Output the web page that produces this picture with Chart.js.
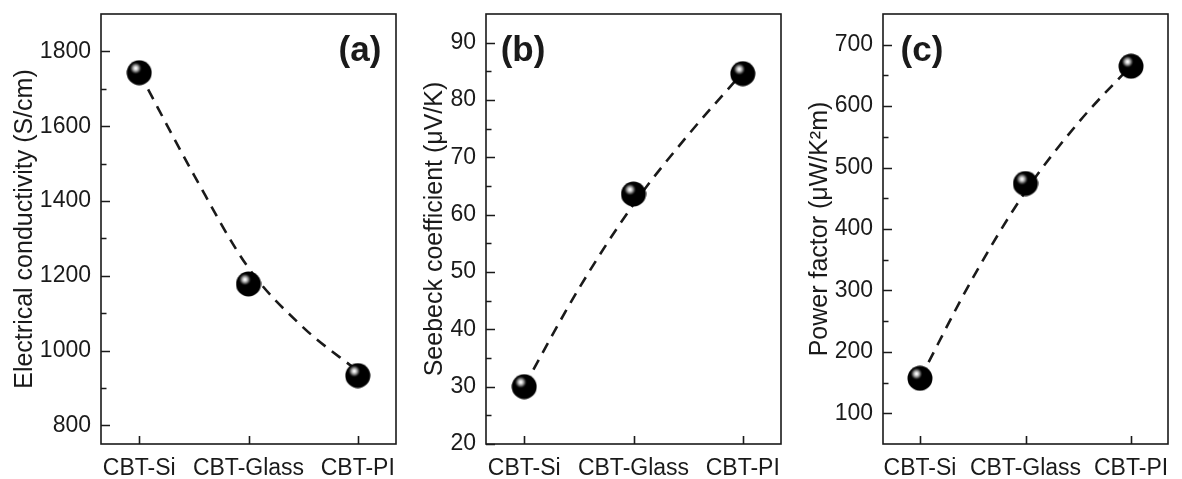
<!DOCTYPE html>
<html>
<head>
<meta charset="utf-8">
<script src="https://cdn.jsdelivr.net/npm/chart.js@4.4.7/dist/chart.umd.min.js"></script>
<style>
  body { margin: 0; background: #fff; }
  canvas { position: absolute; top: 0; }
</style>
</head>
<body>
<canvas id="cA" width="410" height="479" style="left:0px"></canvas>
<canvas id="cB" width="385" height="479" style="left:410px"></canvas>
<canvas id="cC" width="387" height="479" style="left:795px"></canvas>
<script>
// samples on the x axis
const categories = ["CBT-Si", "CBT-Glass", "CBT-PI"];

// measured points
const conductivity = [1743, 1178, 933];
const seebeck = [30.0, 63.6, 84.6];
const powerFactor = [157, 474, 665];

// dashed guide curves
const fitX = [0, 0.5, 1, 1.5, 2];
const conductivityFit = [1743, 1470, 1221, 1062, 945];
const seebeckFit = [30.1, 47.1, 61.8, 73.9, 84.8];
const powerFactorFit = [156, 320, 461, 573, 666];

// y tick values
const conductivityTicks = [800, 1000, 1200, 1400, 1600, 1800];
const conductivityMinor = [900, 1100, 1300, 1500, 1700];
const seebeckTicks = [20, 30, 40, 50, 60, 70, 80, 90];
const seebeckMinor = [25, 35, 45, 55, 65, 75, 85];
const powerTicks = [100, 200, 300, 400, 500, 600, 700];
const powerMinor = [150, 250, 350, 450, 550, 650];

const FONT = "'Liberation Sans', Arial, sans-serif";
const INK = "#1a1a1a";

// shiny black ball marker
function makeBall(d) {
    const c = document.createElement("canvas");
    c.width = c.height = d;
    const g = c.getContext("2d");
    const r = d / 2;
    g.fillStyle = "#000";
    g.beginPath();
    g.arc(r, r, r - 0.5, 0, Math.PI * 2);
    g.fill();
    const hx = r - 3.5, hy = r - 4.5;
    const grd = g.createRadialGradient(hx, hy, 0, hx, hy, 6.5);
    grd.addColorStop(0, "#ffffff");
    grd.addColorStop(0.2, "#e6e6e6");
    grd.addColorStop(0.45, "#9a9a9a");
    grd.addColorStop(0.7, "#3a3a3a");
    grd.addColorStop(1, "rgba(0,0,0,0)");
    g.fillStyle = grd;
    g.beginPath();
    g.arc(hx, hy, 6.5, 0, Math.PI * 2);
    g.fill();
    return c;
}
const ball = makeBall(26);

const framePlugin = {
    id: "frame",
    afterDraw(chart, args, opts) {
        const { ctx, chartArea: a, scales } = chart;
        const x = scales.x, y = scales.y;
        ctx.save();
        ctx.strokeStyle = INK;
        ctx.lineWidth = 1.6;
        ctx.strokeRect(a.left, a.top, a.right - a.left, a.bottom - a.top);
        ctx.beginPath();
        opts.major.forEach(v => {
            const py = Math.round(y.getPixelForValue(v)) + 0.5;
            ctx.moveTo(a.left, py); ctx.lineTo(a.left + 9, py);
        });
        opts.minor.forEach(v => {
            const py = Math.round(y.getPixelForValue(v)) + 0.5;
            ctx.moveTo(a.left, py); ctx.lineTo(a.left + 5.5, py);
        });
        categories.forEach((c, i) => {
            const px = Math.round(x.getPixelForValue(i)) + 0.5;
            ctx.moveTo(px, a.bottom); ctx.lineTo(px, a.bottom - 8);
        });
        ctx.stroke();
        ctx.fillStyle = INK;
        ctx.font = "bold 35px " + FONT;
        ctx.textAlign = "center";
        ctx.textBaseline = "middle";
        ctx.fillText(opts.label, a.left + opts.lx, a.top + opts.ly);
        ctx.restore();
    }
};

function makePanel(id, values, fit, min, max, major, minor, title, label, yWidth, lx, rightPad) {
    const ctx = document.getElementById(id).getContext("2d");
    return new Chart(ctx, {
        type: "scatter",
        data: {
            datasets: [{
                data: values.map((v, i) => ({ x: i, y: v })),
                pointStyle: ball,
                pointRadius: 13,
                showLine: false,
                order: 0
            }, {
                data: fit.map((v, i) => ({ x: fitX[i], y: v })),
                showLine: true,
                pointRadius: 0,
                borderColor: INK,
                borderWidth: 2.6,
                borderDash: [11, 8],
                cubicInterpolationMode: "monotone",
                order: 1
            }]
        },
        options: {
            responsive: false,
            animation: false,
            events: [],
            layout: { padding: { left: 0, top: 12, right: rightPad, bottom: 0 } },
            plugins: {
                legend: { display: false },
                tooltip: { enabled: false },
                frame: { major: major, minor: minor, label: label, lx: lx, ly: 37 }
            },
            scales: {
                x: {
                    type: "linear",
                    min: -0.35,
                    max: 2.35,
                    grid: { display: false, drawTicks: false },
                    border: { display: false },
                    afterBuildTicks: s => { s.ticks = categories.map((c, i) => ({ value: i })); },
                    afterFit: s => { s.height = 35; s.paddingLeft = 0; s.paddingRight = 0; },
                    ticks: {
                        padding: 11,
                        color: INK,
                        font: { family: FONT, size: 23 },
                        maxRotation: 0,
                        callback: v => categories[v]
                    }
                },
                y: {
                    min: min,
                    max: max,
                    grid: { display: false, drawTicks: false },
                    border: { display: false },
                    afterBuildTicks: s => { s.ticks = major.map(v => ({ value: v })); },
                    afterFit: s => { s.width = yWidth; s.paddingTop = 0; s.paddingBottom = 0; },
                    ticks: {
                        padding: 10,
                        color: INK,
                        font: { family: FONT, size: 23 },
                        callback: v => String(v)
                    },
                    title: {
                        display: true,
                        text: title,
                        color: INK,
                        padding: { top: 10, bottom: 0 },
                        font: { family: FONT, size: 25 }
                    }
                }
            }
        },
        plugins: [framePlugin]
    });
}

makePanel("cA", conductivity, conductivityFit, 750, 1900, conductivityTicks, conductivityMinor,
    "Electrical conductivity (S/cm)", "(a)", 101, 259, 9);
makePanel("cB", seebeck, seebeckFit, 20, 95, seebeckTicks, seebeckMinor,
    "Seebeck coefficient (\u03bcV/K)", "(b)", 76, 37, 9);
makePanel("cC", powerFactor, powerFactorFit, 50, 750, powerTicks, powerMinor,
    "Power factor (\u03bcW/K\u00b2m)", "(c)", 88, 39, 1);
</script>
</body>
</html>
